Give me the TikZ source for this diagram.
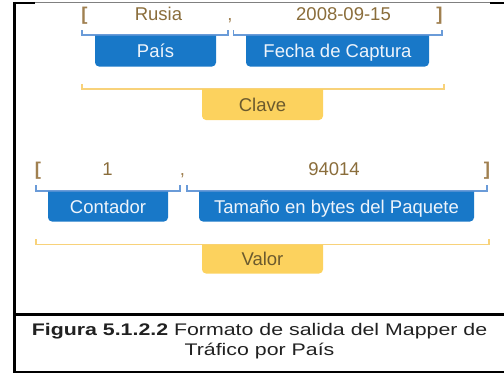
\documentclass[tikz,border=0pt]{standalone}
\usepackage{fontspec}
\setmainfont{Liberation Sans}
\newfontfamily\captionfont[FakeStretch=1.27]{Liberation Sans}
\usepackage{tikz}

\definecolor{valcolor}{HTML}{8A6D3B}
\definecolor{brkcolor}{HTML}{A08050}
\definecolor{bluebrk}{HTML}{6A9BD8}
\definecolor{bluefill}{HTML}{1878C8}
\definecolor{tabtext}{HTML}{EEF4FB}
\definecolor{yelbrk}{HTML}{F8D27A}
\definecolor{yelfill}{HTML}{FCD25E}
\definecolor{yeltext}{HTML}{6B5A2E}

\begin{document}
\begin{tikzpicture}[x=1bp,y=-1bp,
	lbl/.style={inner sep=0pt, text height=13.2bp, text depth=0pt, font=\fontsize{18.5bp}{20bp}\selectfont},
	valtext/.style={lbl, text=valcolor},
	brk/.style={lbl, text=brkcolor},
	tab/.style={lbl, path picture={\fill[#1, rounded corners=4bp] (path picture bounding box.north west) -- (path picture bounding box.south west) -- (path picture bounding box.south east) -- (path picture bounding box.north east);}},
	bluetab/.style={tab=bluefill, text=tabtext},
	yellowtab/.style={tab=yelfill, text=yeltext},
	bluebracket/.style={bluebrk, line width=1.2bp},
	yellowbracket/.style={yelbrk, line width=1.2bp},
	frame/.style={line width=2.4bp},
	caption/.style={inner sep=0pt, align=center, text=black!87, font=\captionfont\fontsize{16.8bp}{20bp}\selectfont}]
	\useasboundingbox (0,0) rectangle (504,374);

	% clave
	\node[brk] (abre1) at (84.5,13.5) {\textbf{[}};
	\node[valtext] (rusia) at (158.5,13.5) {Rusia};
	\node[brk] (coma1) at (230,13.5) {,};
	\node[valtext] (fechaval) at (343.5,13.5) {2008-09-15};
	\node[brk] (cierra1) at (439.5,13.5) {\textbf{]}};

	\draw[bluebracket] (82,30) -- (82,35) -- (228,35) -- (228,30);
	\draw[bluebracket] (233.5,30) -- (233.5,35) -- (442,35) -- (442,30);
	\node[bluetab, minimum width=121bp, minimum height=31bp] (pais) at (155.5,51) {País};
	\node[bluetab, minimum width=183bp, minimum height=31bp] (fecha) at (337.5,51) {Fecha de Captura};

	\draw[yellowbracket] (82,84) -- (82,89) -- (444,89) -- (444,84);
	\node[yellowtab, minimum width=121bp, minimum height=31bp] (clave) at (262.5,104.5) {Clave};

	% valor
	\node[brk] (abre2) at (38,168.5) {\textbf{[}};
	\node[valtext] (contval) at (107.5,168.5) {1};
	\node[brk] (coma2) at (182.5,168.5) {,};
	\node[valtext] (bytesval) at (334,168.5) {94014};
	\node[brk] (cierra2) at (487,168.5) {\textbf{]}};

	\draw[bluebracket] (36,185) -- (36,191) -- (180,191) -- (180,185);
	\draw[bluebracket] (187,185) -- (187,191) -- (487,191) -- (487,185);
	\node[bluetab, minimum width=120bp, minimum height=30bp] (contador) at (108,206.5) {Contador};
	\node[bluetab, minimum width=275bp, minimum height=30bp] (tamano) at (336.5,206.5) {Tamaño en bytes del Paquete};

	\draw[yellowbracket] (36,239) -- (36,244.5) -- (489,244.5) -- (489,239);
	\node[yellowtab, minimum width=121bp, minimum height=29bp] (valor) at (262.5,259) {Valor};

	% marco y pie
	\draw[frame] (14.5,1.8) -- (14.5,373.2);
	\draw[frame] (13.3,3) -- (35,3);
	\draw[gray, line width=0.8bp] (35,2.7) -- (490,2.7);
	\draw[frame] (490,3) -- (504,3);
	\draw[frame] (13.3,314.5) -- (504,314.5);
	\draw[frame] (13.3,372) -- (504,372);
	\node[caption, anchor=base] (pie) at (259.5,355) {\textbf{Figura 5.1.2.2} Formato de salida del Mapper de\\Tráfico por País};
\end{tikzpicture}
\end{document}
